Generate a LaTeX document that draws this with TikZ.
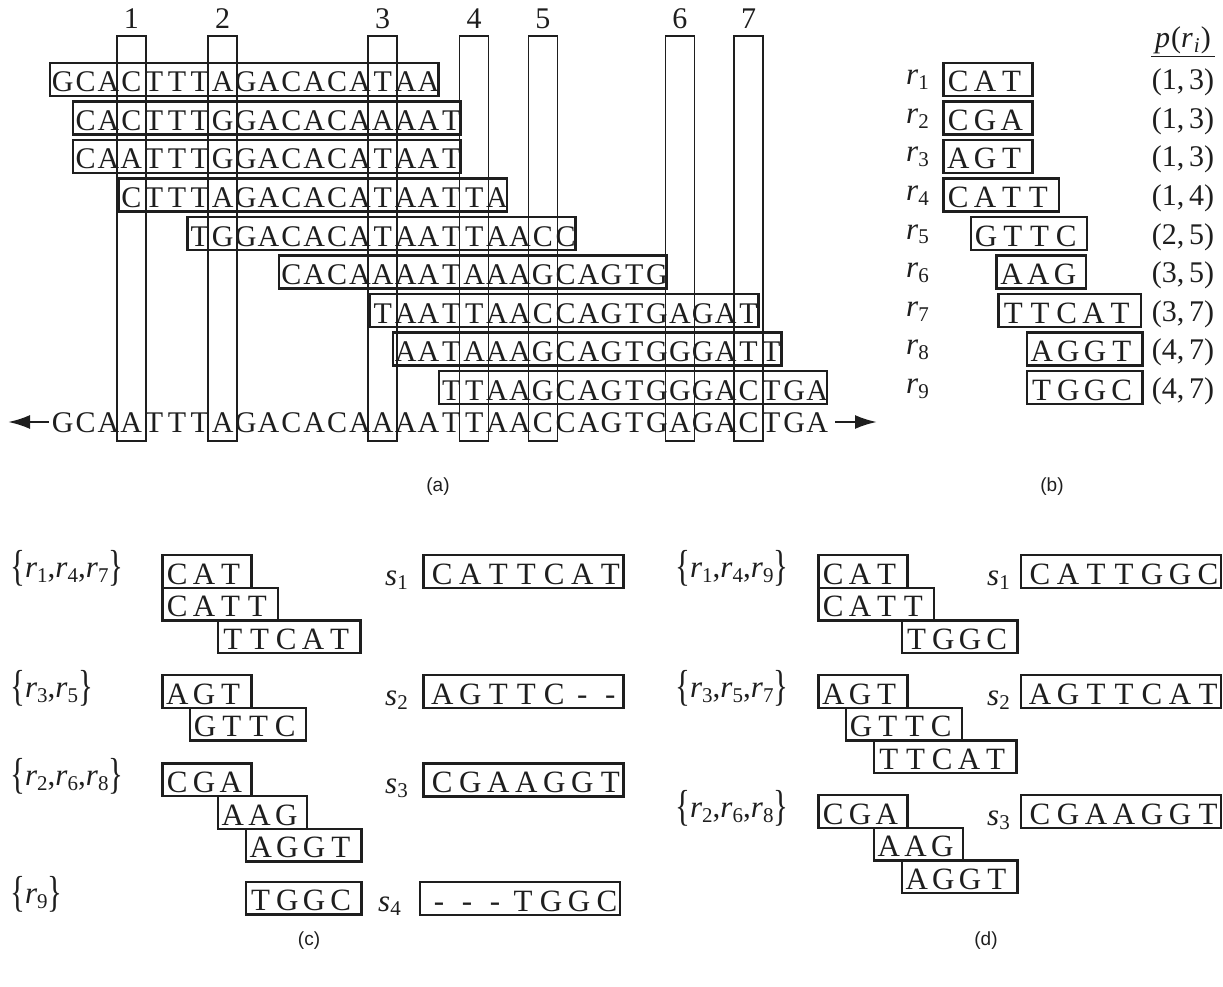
\documentclass[tikz,border=0pt]{standalone}
\usepackage{graphicx}
\usepackage{fontspec}
\setmainfont{Liberation Serif}
\newfontfamily\lsans{Liberation Sans}
\usetikzlibrary{arrows.meta}
\definecolor{ink}{HTML}{1E1E1E}
\newcommand\rsub[1]{\textit{r}\raisebox{-5pt}{\fontsize{21}{21}\selectfont #1}}
\newcommand\ssub[1]{\textit{s}\raisebox{-4pt}{\fontsize{21}{21}\selectfont #1}}
\newcommand\lbr{\raisebox{-3pt}{\scalebox{1}[1.4]{\{}}}
\newcommand\rbr{\raisebox{-3pt}{\scalebox{1}[1.4]{\}}}}
\tikzset{
  ltr/.style={inner sep=0pt, anchor=base, font=\fontsize{30}{31}\selectfont, text=ink},
  ltrb/.style={inner sep=0pt, anchor=base, font=\fontsize{31}{32}\selectfont, text=ink},
  num/.style={inner sep=0pt, anchor=base, font=\fontsize{30}{31}\selectfont, text=ink},
  lbl/.style={inner sep=0pt, anchor=base west, font=\fontsize{31}{32}\selectfont, text=ink},
  rbox/.style={draw=ink, line width=2.3pt},
  cbox/.style={draw=ink, line width=1.5pt},
  sbox/.style={draw=ink, line width=2.4pt},
  panellbl/.style={inner sep=0pt, font=\lsans\fontsize{19}{22}\selectfont, text=ink},
  garrow/.style={draw=ink, line width=2.5pt, -{Latex[length=22pt,width=14pt]}},
}
% panel (a) read: row, start col, end col, letters
\newcommand\rdA[4]{%
  \pgfmathsetmacro\tp{63+(#1-1)*38.5}
  \foreach \ch [count=\k from #2] in {#4}
    \node[ltr] (A#1x\k) at ({62.7+(\k-1)*22.86},{\tp+29}) {\ch};
  \draw[rbox] ({62.7+(#2-1)*22.86-12.5},\tp) rectangle ({62.7+(#3-1)*22.86+10},{\tp+33});
}
% panel (b) read: row, offset, length, letters, position
\newcommand\rdB[5]{%
  \pgfmathsetmacro\tp{63+(#1-1)*38.5}
  \pgfmathsetmacro\lf{943.3+#2*27.8}
  \node[lbl] (B#1r) at (906,{\tp+22}) {\rsub{#1}};
  \foreach \ch [count=\k from 0] in {#4}
    \node[ltrb] (B#1x\k) at ({\lf+15+\k*26.7},{\tp+29}) {\ch};
  \draw[sbox] (\lf,\tp) rectangle ({\lf+#3*26.7+9},{\tp+33});
  \node[num] (B#1p) at (1183,{\tp+27}) {#5};
}
% generic read box: name, left, top, letters, length
\newcommand\rbx[5]{%
  \pgfmathsetmacro\lf{#2}
  \foreach \ch [count=\k from 0] in {#4}
    \node[ltrb] (#1x\k) at ({\lf+15+\k*26.7},{#3+29}) {\ch};
  \draw[sbox] (\lf,#3) rectangle ({\lf+#5*26.7+9},{#3+32.7});
}
% sequence box: name, left, top, letters
\newcommand\sbx[4]{%
  \foreach \ch [count=\k from 0] in {#4}
    \node[ltrb] (#1x\k) at ({#2+19+\k*28},{#3+29.5}) {\ch};
  \draw[sbox] (#2,#3) rectangle ({#2+200},{#3+33});
}
\begin{document}
\begin{tikzpicture}[x=1pt,y=-1pt]
\useasboundingbox (0,0) rectangle (1223,987);
% ---------- panel (a)
\foreach \c/\n in {4/1,8/2,15/3,19/4,22/5,28/6,31/7} {
  \pgfmathsetmacro\cx{62.7+(\c-1)*22.86}
  \draw[cbox] ({\cx-14.5},36) rectangle ({\cx+14.5},441);
  \node[num] (col\n) at (\cx,29) {\n};
}
\rdA{1}{1}{17}{G,C,A,C,T,T,T,A,G,A,C,A,C,A,T,A,A}
\rdA{2}{2}{18}{C,A,C,T,T,T,G,G,A,C,A,C,A,A,A,A,T}
\rdA{3}{2}{18}{C,A,A,T,T,T,G,G,A,C,A,C,A,T,A,A,T}
\rdA{4}{4}{20}{C,T,T,T,A,G,A,C,A,C,A,T,A,A,T,T,A}
\rdA{5}{7}{23}{T,G,G,A,C,A,C,A,T,A,A,T,T,A,A,C,C}
\rdA{6}{11}{27}{C,A,C,A,A,A,A,T,A,A,A,G,C,A,G,T,G}
\rdA{7}{15}{31}{T,A,A,T,T,A,A,C,C,A,G,T,G,A,G,A,T}
\rdA{8}{16}{32}{A,A,T,A,A,A,G,C,A,G,T,G,G,G,A,T,T}
\rdA{9}{18}{34}{T,T,A,A,G,C,A,G,T,G,G,G,A,C,T,G,A}
\foreach \ch [count=\k] in {G,C,A,A,T,T,T,A,G,A,C,A,C,A,A,A,A,T,T,A,A,C,C,A,G,T,G,A,G,A,C,T,G,A}
  \node[ltr] (g\k) at ({62.7+(\k-1)*22.86},432) {\ch};
\coordinate (gl) at (8,422);
\coordinate (gr) at (877,422);
\draw[garrow] ([xshift=-3pt]g1.west |- gl) -- (gl);
\draw[garrow] ([xshift=7pt]g34.east |- gr) -- (gr);
\node[panellbl] (capa) at (438,487) {(a)};
% ---------- panel (b)
\node[num] (ph) at (1183,48) {\textit{p}\kern1pt(\textit{r}\kern1pt\raisebox{-5pt}{\fontsize{21}{21}\selectfont\textit{i}}\kern1pt)};
\coordinate (u1) at (1151,56.7);
\coordinate (u2) at (1215,56.7);
\draw[ink, line width=1.5pt] (u1) -- (u2);
\rdB{1}{0}{3}{C,A,T}{(1,\,3)}
\rdB{2}{0}{3}{C,G,A}{(1,\,3)}
\rdB{3}{0}{3}{A,G,T}{(1,\,3)}
\rdB{4}{0}{4}{C,A,T,T}{(1,\,4)}
\rdB{5}{1}{4}{G,T,T,C}{(2,\,5)}
\rdB{6}{1.92}{3}{A,A,G}{(3,\,5)}
\rdB{7}{1.98}{5}{T,T,C,A,T}{(3,\,7)}
\rdB{8}{3}{4}{A,G,G,T}{(4,\,7)}
\rdB{9}{3}{4}{T,G,G,C}{(4,\,7)}
\node[panellbl] (capb) at (1052,487) {(b)};
% ---------- panel (c)
\node[lbl] (cl1) at (10,577) {\lbr\rsub{1},\rsub{4},\rsub{7}\rbr};
\rbx{c1a}{162.3}{555}{C,A,T}{3}
\rbx{c1b}{162.3}{587.7}{C,A,T,T}{4}
\rbx{c1c}{217.9}{620.4}{T,T,C,A,T}{5}
\node[lbl] (cs1) at (385,585) {\ssub{1}};
\sbx{cq1}{423.3}{555}{C,A,T,T,C,A,T}
\node[lbl] (cl2) at (10,697) {\lbr\rsub{3},\rsub{5}\rbr};
\rbx{c2a}{162.3}{675}{A,G,T}{3}
\rbx{c2b}{190.1}{707.7}{G,T,T,C}{4}
\node[lbl] (cs2) at (385,705) {\ssub{2}};
\sbx{cq2}{423.3}{675}{A,G,T,T,C,-,-}
\node[lbl] (cl3) at (10,785.3) {\lbr\rsub{2},\rsub{6},\rsub{8}\rbr};
\rbx{c3a}{162.3}{763.3}{C,G,A}{3}
\rbx{c3b}{217.9}{796}{A,A,G}{3}
\rbx{c3c}{245.7}{828.7}{A,G,G,T}{4}
\node[lbl] (cs3) at (385,793.3) {\ssub{3}};
\sbx{cq3}{423.3}{763.3}{C,G,A,A,G,G,T}
\node[lbl] (cl4) at (10,903.7) {\lbr\rsub{9}\rbr};
\rbx{c4a}{245.7}{881.7}{T,G,G,C}{4}
\node[lbl] (cs4) at (378,911.7) {\ssub{4}};
\sbx{cq4}{420}{881.7}{-,-,-,T,G,G,C}
\node[panellbl] (capc) at (309,941) {(c)};
% ---------- panel (d)
\node[lbl] (dl1) at (675,577) {\lbr\rsub{1},\rsub{4},\rsub{9}\rbr};
\rbx{d1a}{818.3}{555}{C,A,T}{3}
\rbx{d1b}{818.3}{587.7}{C,A,T,T}{4}
\rbx{d1c}{901.7}{620.4}{T,G,G,C}{4}
\node[lbl] (ds1) at (987,585) {\ssub{1}};
\sbx{dq1}{1021}{555}{C,A,T,T,G,G,C}
\node[lbl] (dl2) at (675,697) {\lbr\rsub{3},\rsub{5},\rsub{7}\rbr};
\rbx{d2a}{818.3}{675}{A,G,T}{3}
\rbx{d2b}{846.1}{707.7}{G,T,T,C}{4}
\rbx{d2c}{873.9}{740.4}{T,T,C,A,T}{5}
\node[lbl] (ds2) at (987,705) {\ssub{2}};
\sbx{dq2}{1021}{675}{A,G,T,T,C,A,T}
\node[lbl] (dl3) at (675,817) {\lbr\rsub{2},\rsub{6},\rsub{8}\rbr};
\rbx{d3a}{818.3}{795}{C,G,A}{3}
\rbx{d3b}{873.9}{827.7}{A,A,G}{3}
\rbx{d3c}{901.7}{860.4}{A,G,G,T}{4}
\node[lbl] (ds3) at (987,825) {\ssub{3}};
\sbx{dq3}{1021}{795}{C,G,A,A,G,G,T}
\node[panellbl] (capd) at (986,941) {(d)};
\end{tikzpicture}
\end{document}
